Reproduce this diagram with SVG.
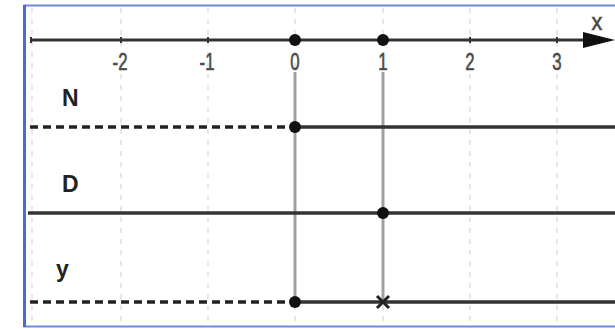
<svg xmlns="http://www.w3.org/2000/svg" width="615" height="329" viewBox="0 0 615 329">
<defs>
<style>
.grid{stroke:#d4d8e0;stroke-width:1.2;stroke-dasharray:5 6;fill:none}
.axis{stroke:#333;stroke-width:3;fill:none}
.line{stroke:#333;stroke-width:3.5;fill:none}
.dash{stroke:#222;stroke-width:3.5;stroke-dasharray:8 5;fill:none}
.vert{stroke:#a0a0a0;stroke-width:3;fill:none}
.dot{fill:#111}
.num{font-family:"Liberation Sans",Arial,sans-serif;font-size:24px;fill:#4a4a4a;stroke:#4a4a4a;stroke-width:0.6;text-anchor:middle}
.lbl{font-family:"Liberation Sans",Arial,sans-serif;font-size:23px;font-weight:bold;fill:#222}
</style>
</defs>
<rect x="0" y="0" width="615" height="329" fill="#fff"/>
<rect x="24.5" y="5.5" width="600" height="321" fill="#fff" stroke="#6f8ad8" stroke-width="2"/>
<line x1="24.5" y1="5" x2="24.5" y2="327" stroke="#4a6bd0" stroke-width="3"/>
<g id="grid">
<line class="grid" x1="32" y1="8" x2="32" y2="325"/>
<line class="grid" x1="121" y1="8" x2="121" y2="325"/>
<line class="grid" x1="208" y1="8" x2="208" y2="325"/>
<line class="grid" x1="295" y1="8" x2="295" y2="325"/>
<line class="grid" x1="383" y1="8" x2="383" y2="325"/>
<line class="grid" x1="470" y1="8" x2="470" y2="325"/>
<line class="grid" x1="557" y1="8" x2="557" y2="325"/>
</g>
<g id="axis">
<line class="axis" x1="31" y1="40" x2="600" y2="40"/>
<path d="M583,32 L615,40 L583,48 Z" fill="#111"/>
<g stroke="#333" stroke-width="2">
<line x1="31" y1="37" x2="31" y2="43"/>
<line x1="121" y1="37" x2="121" y2="43"/>
<line x1="208" y1="37" x2="208" y2="43"/>
<line x1="470" y1="37" x2="470" y2="43"/>
<line x1="557" y1="37" x2="557" y2="43"/>
</g>
<text class="num" transform="translate(597,30) scale(0.9,1)" font-size="21">x</text>
<text class="num" transform="translate(120,70) scale(0.7,1)">-2</text>
<text class="num" transform="translate(207,70) scale(0.7,1)">-1</text>
<text class="num" transform="translate(295,70) scale(0.7,1)">0</text>
<text class="num" transform="translate(383,70) scale(0.7,1)">1</text>
<text class="num" transform="translate(470,70) scale(0.7,1)">2</text>
<text class="num" transform="translate(557,70) scale(0.7,1)">3</text>
</g>
<g id="connectors">
<line class="vert" x1="295" y1="72" x2="295" y2="302"/>
<line class="vert" x1="383" y1="72" x2="383" y2="302"/>
</g>
<g id="axis-dots">
<circle class="dot" cx="295" cy="40" r="6"/>
<circle class="dot" cx="383" cy="40" r="6"/>
</g>
<g id="N">
<text class="lbl" x="62" y="106">N</text>
<line class="dash" x1="30" y1="127" x2="295" y2="127"/>
<line class="line" x1="295" y1="127" x2="615" y2="127"/>
<circle class="dot" cx="295" cy="127" r="6"/>
</g>
<g id="D">
<text class="lbl" x="62" y="192">D</text>
<line class="line" x1="28" y1="213" x2="615" y2="213"/>
<circle class="dot" cx="383" cy="213" r="6"/>
</g>
<g id="y">
<text class="lbl" x="56" y="277">y</text>
<line class="dash" x1="30" y1="302" x2="295" y2="302"/>
<line class="line" x1="295" y1="302" x2="615" y2="302"/>
<circle class="dot" cx="295" cy="302" r="6"/>
<path d="M377,296 L389,308 M389,296 L377,308" stroke="#222" stroke-width="3"/>
</g>
</svg>
